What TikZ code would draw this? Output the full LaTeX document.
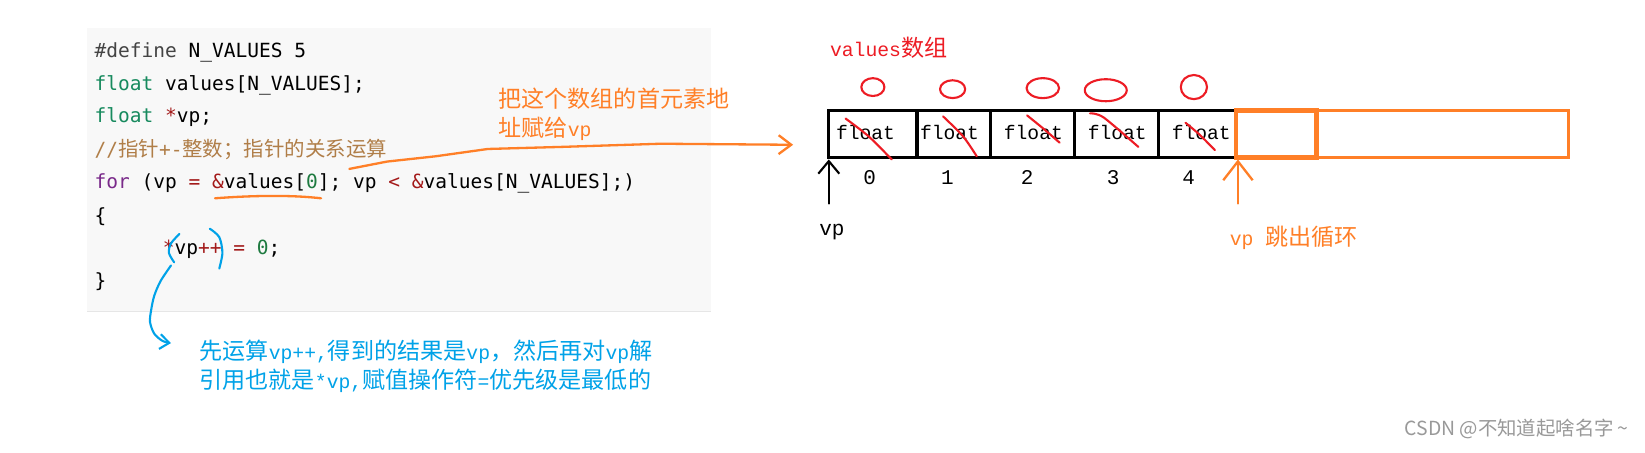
\documentclass[tikz,border=0pt]{standalone}
\usepackage{fontspec}
\setmainfont{Liberation Mono}
\newfontfamily\codefont{DejaVu Sans Mono}
\newfontfamily\cjk{Noto Sans CJK SC}
\usetikzlibrary{arrows.meta,positioning}
\frenchspacing

\definecolor{codebg}{HTML}{F8F8F8}
\definecolor{codeedge}{HTML}{E6E6E6}
\definecolor{codegreen}{HTML}{178A5E}
\definecolor{codepurple}{HTML}{7A2A8A}
\definecolor{codered}{HTML}{A31A1A}
\definecolor{codenum}{HTML}{1E7A40}
\definecolor{codecmt}{HTML}{B07E48}
\definecolor{codedef}{HTML}{444444}
\definecolor{penorange}{HTML}{FF7F27}
\definecolor{penred}{HTML}{ED1C24}
\definecolor{penblue}{HTML}{00A2E8}
\definecolor{markgray}{HTML}{999999}

\newcommand\ckw[1]{\textcolor{codegreen}{#1}}
\newcommand\cfor[1]{\textcolor{codepurple}{#1}}
\newcommand\cop[1]{\textcolor{codered}{#1}}
\newcommand\cnum[1]{\textcolor{codenum}{#1}}
\newcommand\cdef[1]{\textcolor{codedef}{#1}}
\newcommand\czh[1]{{\cjk\fontsize{19.5}{24}\selectfont #1}}
\newcommand\zh[1]{{\cjk\fontsize{22}{26}\selectfont #1}}

\begin{document}
\begin{tikzpicture}[x=1pt,y=-1pt,
  codeline/.style={anchor=base west, inner sep=0pt, font=\codefont\fontsize{18.6}{22}\selectfont},
  note/.style={anchor=base west, inner sep=0pt, font=\fontsize{18.8}{22}\selectfont},
  cellfont/.style={anchor=base, inner sep=0pt, font=\fontsize{18.7}{22}\selectfont},
  idx/.style={anchor=base, inner sep=0pt, font=\fontsize{20}{22}\selectfont},
  cellbox/.style={line width=3pt},
  redpen/.style={penred, line width=2pt, line cap=round, line join=round},
  orangepen/.style={penorange, line width=2.2pt, line cap=round, line join=round},
  bluepen/.style={penblue, line width=2pt, line cap=round, line join=round},
  blackpen/.style={black, line width=2pt, line cap=round}]
% Set the page size
\useasboundingbox (0,0) rectangle (1568,431);
\fill[white] (0,0) rectangle (1568,431);

% Code block
\fill[codebg] (83,27) rectangle (678,297);
\draw[codeedge, line width=1.5pt] (83,297) -- (678,297);
\node[codeline] (define) at (90,55) {\cdef{\#define} N\_VALUES 5};
\node[codeline] (decl) at (90,86) {\ckw{float} values[N\_VALUES];};
\node[codeline] (ptr) at (90,117) {\ckw{float} \cop{*}vp;};
\node[codeline, text=codecmt] (cmt) at (90,149) {//\czh{指针}+-\czh{整数；指针的关系运算}};
\node[codeline] (loop) at (90,180) {\cfor{for} (vp \cop{=} \cop{\&}values[\cnum{0}]; vp \cop{<} \cop{\&}values[N\_VALUES];)};
\node[codeline] (open) at (90,212) {\{};
\node[codeline] (body) at (155,243) {\cop{*}vp\cop{++} \cop{=} \cnum{0};};
\node[codeline] (close) at (90,274) {\}};

% Orange note and arrow to the array
\draw[orangepen] (205,189) .. controls (245,186) and (280,186) .. (306,189);
\node[note, text=penorange] (addr1) at (475,102) {\zh{把这个数组的首元素地}};
\node[note, text=penorange] (addr2) at (475,130) {\zh{址赋给}vp};
\coordinate (ulend) at (333,161);
\coordinate (arrin) at (756,138);
\draw[orangepen, -{Straight Barb[length=12pt,width=18pt]}] (ulend) -- (369,154) -- (415,149) -- (465,142) -- (536,140) -- (630,137) -- (arrin);

% Array and its cells
\node[note, text=penred] (arrname) at (791,54) {values\zh{数组}};
\draw[penorange, line width=3pt] (1178,105) rectangle (1495,150);
\draw[cellbox] (790,105) rectangle (1178,150);
\foreach \x in {874,944,1024,1104}
  \draw[cellbox] (\x,105) -- (\x,150);
\draw[penorange, line width=4.5pt] (1178,105) rectangle (1255,150);
\foreach \x [count=\i from 0] in {825,905,985,1065,1145}
  \node[cellfont] (f\i) at (\x,133) {float};
\foreach \x [count=\i from 0] in {829,903,979,1061,1133}
  \node[idx] (n\i) at (\x,176) {\i};

% Red marks
\foreach \x/\y/\a/\b in {832/83/11pt/8.5pt, 908/85/12pt/8.5pt, 994/84/15.5pt/9.5pt, 1054/86/20pt/10.5pt, 1138/83/12.5pt/11.5pt}
  \draw[redpen] (\x,\y) ellipse [x radius=\a, y radius=\b];
\foreach \ax/\ay/\bx/\by/\cx/\cy in {806/113/828/130/850/152, 899/111/918/130/931/149, 979/110/995/123/1010/136, 1039/108/1052/112/1085/140, 1130/117/1143/128/1158/143}
  \draw[redpen] plot[smooth] coordinates {(\ax,\ay) (\bx,\by) (\cx,\cy)};

% Pointer arrows
\node[idx] (vp) at (793,224) {vp};
\coordinate (vptail) at (790,194);
\coordinate (arrfoot) at (790,152);
\draw[blackpen, -{Straight Barb[length=12pt,width=20pt]}] (vptail) -- (arrfoot);
\coordinate (outtail) at (1180,194);
\coordinate (outfoot) at (1180,152);
\draw[orangepen, -{Straight Barb[length=18pt,width=28pt]}] (outtail) -- (outfoot);
\node[note, text=penorange] (out) at (1172,234) {vp \zh{跳出循环}};

% Blue note
\draw[bluepen] plot[smooth] coordinates {(171,223) (163,232) (161,241) (166,250)};
\draw[bluepen] plot[smooth] coordinates {(200,218) (209,226) (212,241) (209,256)};
\draw[bluepen, -{Straight Barb[length=9pt,width=14pt]}] plot[smooth] coordinates {(163,253) (153,268) (147,282) (144,296) (143,307) (147,318) (155,325) (163,327)};
\node[note, text=penblue] (why1) at (190,343) {\zh{先运算}vp++,\zh{得到的结果是}vp\zh{，然后再对}vp\zh{解}};
\node[note, text=penblue] (why2) at (190,370) {\zh{引用也就是}*vp,\zh{赋值操作符}=\zh{优先级是最低的}};

% Watermark
\node[anchor=base east, inner sep=0pt, text=markgray, font=\cjk\fontsize{18.5}{20}\selectfont] (mark) at (1552,415) {CSDN @不知道起啥名字\,\textasciitilde};
\end{tikzpicture}
\end{document}
